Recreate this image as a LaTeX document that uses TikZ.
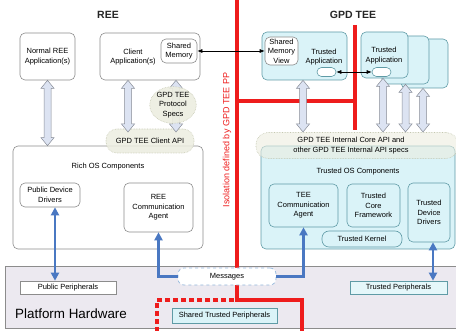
\documentclass[tikz,border=0pt]{standalone}
\usepackage{fontspec}
\setmainfont{Liberation Sans}
\usetikzlibrary{calc,arrows.meta,shapes.geometric}
\definecolor{boxgray}{HTML}{8C8C8C}
\definecolor{tealb}{HTML}{5F9BA6}
\definecolor{cyanfill}{HTML}{DAF3F8}
\definecolor{beige}{HTML}{ECEDE0}
\definecolor{beigeb}{HTML}{C4C7B0}
\definecolor{arrfill}{HTML}{DCE3F2}
\definecolor{arrgray}{HTML}{878C96}
\definecolor{platfill}{HTML}{ECE9F0}
\definecolor{blueA}{HTML}{4A78C2}
\definecolor{redL}{HTML}{EE1C1C}
\definecolor{msgb}{HTML}{94B8DC}
\newcommand\smallsz{\fontsize{7.5}{9.6}\selectfont}
\begin{document}
\begin{tikzpicture}[x=1pt,y=-1pt,
  txt/.style={font=\smallsz, align=center, inner sep=0pt},
  box/.style={draw=boxgray, line width=0.6pt, rounded corners=5pt, fill=white, txt},
  tbox/.style={box, draw=tealb, fill=cyanfill},
  oval/.style={draw=beigeb, densely dotted, line width=0.6pt, fill=beige, txt},
  flat/.style={draw=boxgray, line width=0.6pt, fill=white, txt},
  harrow/.style={draw=arrgray, fill=arrfill, line width=0.5pt,
    to path={let \p1=(\tikztostart), \p2=(\tikztotarget) in
      -- (\x1-6.5pt,\y1-8pt) -- (\x1-3.5pt,\y1-8pt) -- (\x1-3.5pt,\y2+8pt)
      -- (\x1-6.5pt,\y2+8pt) -- (\x1,\y2) -- (\x1+6.5pt,\y2+8pt)
      -- (\x1+3.5pt,\y2+8pt) -- (\x1+3.5pt,\y1-8pt) -- (\x1+6.5pt,\y1-8pt) -- cycle}},
  bluearr/.style={draw=blueA, line width=2.6pt, -{Triangle[length=8pt,width=8pt]}},
  bluedbl/.style={draw=blueA, line width=2.6pt, {Triangle[length=8pt,width=8pt]}-{Triangle[length=8pt,width=8pt]}},
  redline/.style={draw=redL, line width=3.3pt},
  title/.style={font=\fontsize{10.5}{12}\selectfont\bfseries, inner sep=0pt, text=black!85},
  thinarr/.style={line width=0.6pt, {Latex[length=5pt,width=4pt]}-{Latex[length=5pt,width=4pt]}}
]
\useasboundingbox (0,0) rectangle (456,331);

% platform hardware band
\node[draw=boxgray, fill=platfill, line width=0.6pt, minimum width=470pt, minimum height=62pt, anchor=north west, inner sep=0pt] (plat) at (5,266) {};
\node[anchor=base west, font=\fontsize{13.4}{15}\selectfont, inner sep=0pt] (platT) at (15,319) {Platform Hardware};
\node[flat, minimum width=96pt, minimum height=13pt] (pubper) at (68,287.5) {Public Peripherals};
\node[flat, draw=tealb, fill=cyanfill!70, minimum width=97pt, minimum height=13pt] (trper) at (398.5,287.5) {Trusted Peripherals};
\node[flat, draw=tealb, fill=cyanfill, minimum width=105pt, minimum height=15pt] (shtp) at (224.5,315.5) {Shared Trusted Peripherals};

% titles
\node[title] (reeT) at (108,15) {REE};
\node[title] (teeT) at (353,15) {GPD TEE};

% REE side
\node[box, minimum width=55pt, minimum height=47pt] (normal) at (47.5,56.5) {Normal REE\\Application(s)};
\node[box, minimum width=100pt, minimum height=47pt] (client) at (150,56.5) {};
\node[txt] (clientT) at (133,57) {Client\\Application(s)};
\node[box, minimum width=36pt, minimum height=24pt] (shmem) at (179,51) {Shared\\Memory};

\node[box, minimum width=190pt, minimum height=103pt] (richos) at (108,197.5) {};
\node[txt] (richosT) at (108,167) {Rich OS Components};
\node[box, minimum width=60pt, minimum height=24pt] (pdd) at (50,195) {Public Device\\Drivers};
\node[box, minimum width=69pt, minimum height=49pt] (reeca) at (158.5,207.5) {REE\\Communication\\Agent};

% TEE side
\node[tbox, minimum width=194pt, minimum height=103pt] (tos) at (358,197.5) {};
\node[txt] (tosT) at (358,172) {Trusted OS Components};
\node[tbox, minimum width=69pt, minimum height=43pt] (teeca) at (303.5,205.5) {TEE\\Communication\\Agent};
\node[tbox, minimum width=53pt, minimum height=43pt] (tcf) at (373.5,205.5) {Trusted\\Core\\Framework};
\node[tbox, minimum width=42pt, minimum height=59pt] (tdd) at (429,212.5) {Trusted\\Device\\Drivers};
\node[tbox, rounded corners=7pt, minimum width=80pt, minimum height=16pt] (tk) at (362,239) {Trusted Kernel};

\node[tbox, minimum width=85pt, minimum height=48pt] (ta1) at (304.5,56) {};
\node[box, minimum width=33pt, minimum height=28pt] (smv) at (281.5,51) {Shared\\Memory\\View};
\node[txt] (ta1T) at (324,57) {Trusted\\Application};
\node[tbox, fill=white, rounded corners=4.5pt, minimum width=19pt, minimum height=9pt] (pill1) at (326.5,72) {};

\node[tbox, minimum width=47pt, minimum height=49pt] (ta3) at (424.5,63.5) {};
\node[tbox, minimum width=47pt, minimum height=48pt] (ta2) at (405.5,60) {};
\node[tbox, minimum width=47pt, minimum height=46pt] (ta) at (384.5,55) {};
\node[txt] (taT) at (384,55.5) {Trusted\\Application};
\node[tbox, fill=white, rounded corners=4.5pt, minimum width=19pt, minimum height=9pt] (pill2) at (381.5,72) {};

% API ovals
\node[oval, rounded corners=11pt, minimum width=88pt, minimum height=24pt, fill opacity=0.85, text opacity=1] (capi) at (150,141) {GPD TEE Client API};
\node[oval, rounded corners=12pt, minimum width=202pt, minimum height=26pt, fill opacity=0.6] (iapi) at (357,145.5) {};
\node[txt] (iapiT) at (351,145.5) {GPD TEE Internal Core API and\\other GPD TEE Internal API specs};

% red isolation lines
\draw[redline] (237,0) -- (237,300) -- (302,300) -- (302,331);
\draw[redline] (237,101) -- (355,101);
\draw[redline] (355,25) -- (355,130);
\draw[redline, dash pattern=on 5pt off 3pt] (234,300) -- (157,300) -- (157,331);
\node[txt, font=\fontsize{9}{10}\selectfont, text=redL, rotate=90] (iso) at (227,140) {Isolation defined by GPD TEE PP};

% hollow arrows
\coordinate (yapi) at (0,132);
\coordinate (c1) at ([xshift=-22pt]client.south);
\coordinate (c2) at ([xshift=26pt]client.south);
\coordinate (t1) at ([xshift=-1.5pt]ta1.south);
\coordinate (t2) at ([xshift=-1.5pt]ta.south);
\coordinate (t3) at (ta2.south);
\coordinate (t4) at ([xshift=-1.5pt]ta3.south);
\draw[harrow] (normal.south) to (normal.south |- richos.north);
\draw[harrow] (c1) to (c1 |- yapi);
\draw[harrow] (c2) to (c2 |- yapi);
\draw[harrow] (t1) to (t1 |- yapi);
\draw[harrow] (t2) to (t2 |- yapi);
\draw[harrow] (t3) to (t3 |- yapi);
\draw[harrow] (t4) to (t4 |- yapi);

\node[oval, ellipse, minimum width=44pt, minimum height=33pt, fill opacity=0.9, text opacity=1] (specs) at (173,105) {GPD TEE\\Protocol\\Specs};

% messages and blue arrows
\node[draw=msgb, dashed, line width=0.7pt, fill=white, rounded corners=6pt, minimum width=98pt, minimum height=17pt, txt] (msg) at (227,276.5) {Messages};
\draw[bluearr] (msg.west) -| (reeca.south);
\draw[bluearr] (msg.east) -| (teeca.south);
\coordinate (p1) at ([xshift=5pt]pdd.south);
\coordinate (p2) at ([xshift=4pt]tdd.south);
\draw[bluedbl] (p1) -- (p1 |- pubper.north);
\draw[bluedbl] (p2) -- (p2 |- trper.north);

% thin arrows
\draw[thinarr] (shmem.east) -- (smv.west);
\draw[thinarr] (pill1.east) -- (pill2.west);
\end{tikzpicture}
\end{document}
